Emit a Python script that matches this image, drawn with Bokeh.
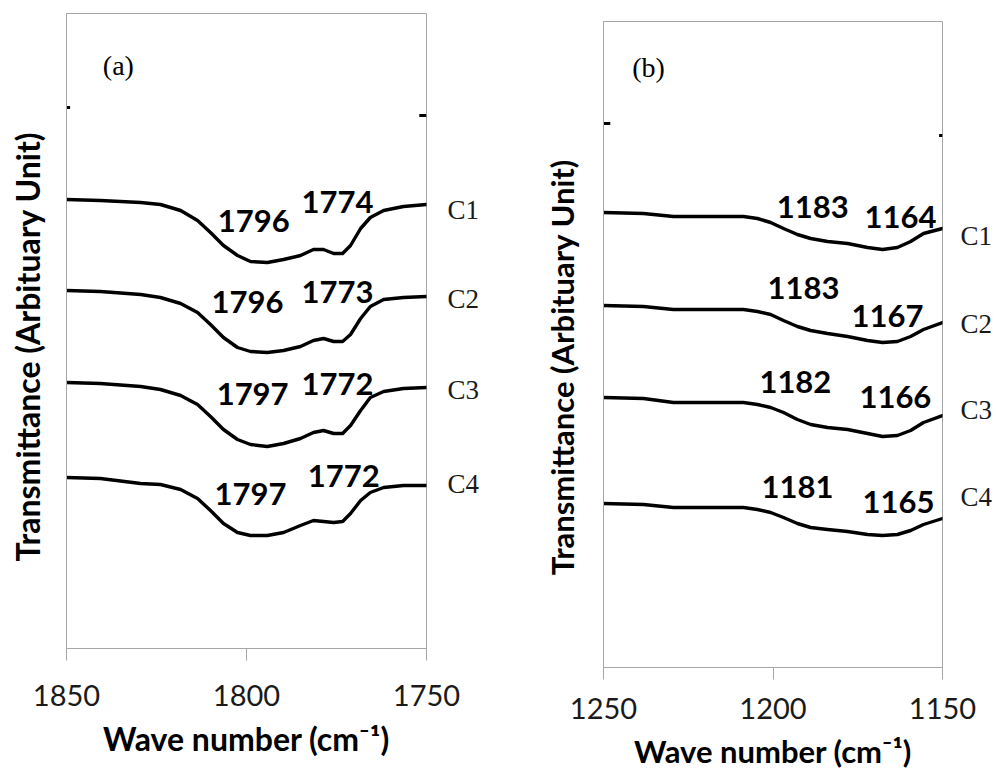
from bokeh.plotting import figure
from bokeh.models import Range1d, FixedTicker, Label, LinearAxis
from bokeh.core.properties import value
from bokeh.embed import file_html
from bokeh.resources import INLINE

# ---------------- Panel (a) data ----------------
wn_a = [1850, 1840.6, 1829.4, 1823.9, 1818.3, 1813.6, 1810, 1806.4, 1802.5, 1798.9,
        1794.2, 1789.7, 1785, 1781.4, 1778.6, 1775.8, 1773.3, 1771.1, 1768.3,
        1765.6, 1761.9, 1756.4, 1750]
c1_a = [449, 448, 446, 444, 438, 428, 416, 403, 393, 387, 386, 389, 393, 399, 399, 395,
        395, 403, 420, 431, 438, 442, 444]
c2_a = [358, 357, 354, 351, 345, 336, 324, 311, 301, 297, 296, 298, 302, 308, 310, 307,
        307, 314, 330, 342, 349, 351, 352]
c3_a = [266, 265, 262, 259, 253, 244, 232, 219, 209, 204, 202, 205, 210, 216, 218, 215,
        215, 223, 238, 251, 257, 260, 261]
c4_a = [171, 170, 165, 164, 159, 150, 138, 125, 116, 113, 113, 116, 123, 128, 127, 126,
        127, 135, 148, 156, 161, 163, 163]

peak_text_a = ["1796", "1774", "1796", "1773", "1797", "1772", "1797", "1772"]
peak_x_a = [1798, 1774.7, 1799.7, 1774.7, 1798.3, 1774.7, 1798.9, 1773]
peak_y_a = [428, 447, 347, 357, 255, 265, 155, 173]

series_names = ["C1", "C2", "C3", "C4"]
name_y_a = [439, 350, 259, 165]

stray_a_x1 = [1850, 1752]
stray_a_x2 = [1849, 1750]
stray_a_y = [541, 533]

ticks_a = [1850, 1800, 1750]

# ---------------- Panel (b) data ----------------
wn_b = [1250, 1238.2, 1229.4, 1221.4, 1208.7, 1204.6, 1200.7, 1196.9, 1192.8, 1188.9,
        1183.9, 1178, 1172.1, 1167.7, 1163.3, 1159.4, 1155.6, 1150]
c1_b = [455, 454, 451, 451, 451, 449, 445, 439, 433, 429, 426, 424, 420, 418, 420, 426, 434, 439]
c2_b = [362, 361, 358, 358, 358, 356, 353, 347, 341, 337, 334, 331, 327, 325, 326, 331, 338, 345]
c3_b = [270, 269, 265, 265, 265, 263, 260, 255, 248, 243, 240, 238, 234, 231, 232, 237, 245, 252]
c4_b = [164, 163, 160, 160, 160, 158, 155, 150, 144, 140, 138, 136, 133, 132, 133, 137, 143, 149]

peak_text_b = ["1183", "1164", "1183", "1167", "1182", "1166", "1181", "1165"]
peak_x_b = [1188.3, 1162.4, 1191, 1166.2, 1193.4, 1163.9, 1192.8, 1163]
peak_y_b = [461, 451, 380, 352, 286, 271, 181, 166]

name_y_b = [432, 344, 258, 171]

stray_b_x1 = [1250, 1151]
stray_b_x2 = [1248, 1150]
stray_b_y = [544, 532]

ticks_b = [1250, 1200, 1150]

X_TITLE = "Wave number (cm\u207b\u00b9)"
Y_TITLE = "Transmittance (Arbituary Unit)"

GRAY = "#a6a6a6"
SANS = "Lato"
SERIF = "Liberation Serif"
NBSP = "\u00a0"


def make_panel(width, height, left, right, top, bottom, xr, ymax, wn, curves,
               px, py, pt, ny, sx1, sx2, sy, ticks, tag, tag_x, tag_y,
               tick_standoff, title_standoff, name_standoff, ytitle_size,
               ytitle_pad, ytitle_standoff, xtitle_size):
    p = figure(width=width, height=height, output_backend="svg", toolbar_location=None,
               x_range=Range1d(xr[0], xr[1]), y_range=Range1d(0, ymax),
               min_border_left=left, min_border_right=right,
               min_border_top=top, min_border_bottom=bottom)
    p.grid.visible = False
    p.outline_line_color = GRAY
    p.outline_line_width = 1
    p.background_fill_color = "white"
    p.border_fill_color = "white"

    for c in curves:
        p.line(wn, c, line_color="black", line_width=3.4, line_join="round",
               line_cap="round")

    p.segment(x0=sx1, y0=sy, x1=sx2, y1=sy, line_color="black", line_width=3)

    p.text(x=px, y=py, text=pt, text_font=value(SANS), text_font_style="bold",
           text_font_size="31px", text_align="center", text_baseline="middle",
           text_color="black")

    p.add_layout(Label(x=tag_x, y=tag_y, text=tag, text_font=SERIF,
                       text_font_size="28px", text_align="center",
                       text_baseline="middle", text_color="black"))

    xa = p.xaxis[0]
    xa.ticker = FixedTicker(ticks=ticks)
    xa.minor_tick_line_color = None
    xa.axis_line_color = GRAY
    xa.major_tick_line_color = GRAY
    xa.major_tick_out = 12
    xa.major_tick_in = 0
    xa.major_label_standoff = tick_standoff
    xa.major_label_text_font = SANS
    xa.major_label_text_font_size = "29px"
    xa.major_label_text_color = "#1a1a1a"
    xa.axis_label = X_TITLE
    xa.axis_label_text_font = SANS
    xa.axis_label_text_font_style = "bold"
    xa.axis_label_text_font_size = xtitle_size
    xa.axis_label_text_color = "black"
    xa.axis_label_standoff = title_standoff

    ya = p.yaxis[0]
    ya.ticker = FixedTicker(ticks=[])
    ya.minor_tick_line_color = None
    ya.major_tick_line_color = None
    ya.major_tick_out = 0
    ya.major_tick_in = 0
    ya.major_label_standoff = 0
    ya.axis_line_color = GRAY
    ya.axis_label = Y_TITLE + NBSP * ytitle_pad
    ya.axis_label_text_font = SANS
    ya.axis_label_text_font_style = "bold"
    ya.axis_label_text_font_size = ytitle_size
    ya.axis_label_text_color = "black"
    ya.axis_label_standoff = ytitle_standoff

    # series names (C1..C4) as labels of a right-hand axis
    ra = LinearAxis(ticker=FixedTicker(ticks=ny),
                    major_label_overrides={v: n for v, n in zip(ny, series_names)})
    ra.axis_line_color = None
    ra.major_tick_line_color = None
    ra.minor_tick_line_color = None
    ra.major_tick_out = 0
    ra.major_tick_in = 0
    ra.major_label_standoff = name_standoff
    ra.major_label_text_font = SERIF
    ra.major_label_text_font_size = "27px"
    ra.major_label_text_color = "#1a1a1a"
    p.add_layout(ra, "right")
    return p


pa = make_panel(490, 772, 66, 64, 13, 124, (1850, 1750), 635, wn_a,
                [c1_a, c2_a, c3_a, c4_a], peak_x_a, peak_y_a, peak_text_a,
                name_y_a, stray_a_x1, stray_a_x2, stray_a_y, ticks_a,
                "(a)", 1835.6, 583, 24, 10, 21, "32px", 4, 20, "32px")
pb = make_panel(506, 772, 113, 54, 21, 105, (1250, 1150), 646, wn_b,
                [c1_b, c2_b, c3_b, c4_b], peak_x_b, peak_y_b, peak_text_b,
                name_y_b, stray_b_x1, stray_b_x2, stray_b_y, ticks_b,
                "(b)", 1236.7, 600, 18, 10, 18, "31px", 6, 23, "31px")

# Each panel is an independent root placed side by side (no frame alignment).
TEMPLATE = """
{% block contents %}
<div style="display:flex;flex-direction:row;align-items:flex-start;margin:0;padding:0;">
{% for doc in docs %}{% for root in doc.roots %}{{ embed(root) }}{% endfor %}{% endfor %}
</div>
{% endblock %}
"""

open("out.html", "w").write(file_html([pa, pb], INLINE, template=TEMPLATE))
